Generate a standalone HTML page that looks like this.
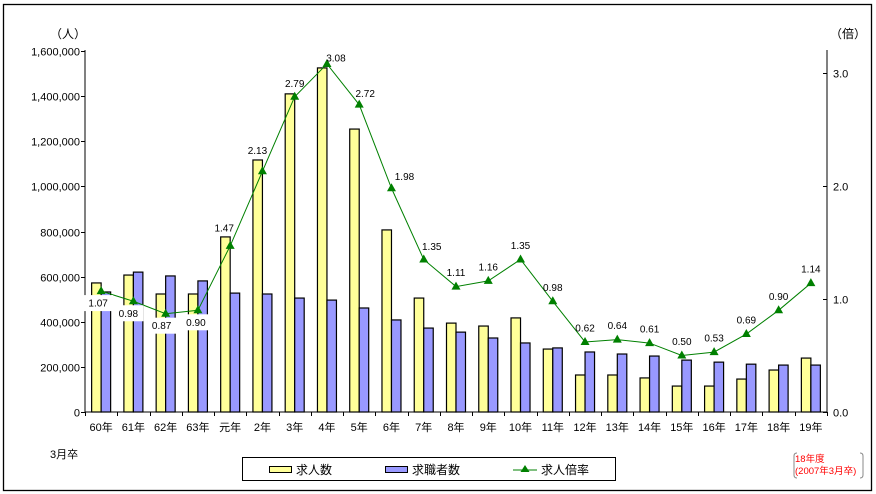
<!DOCTYPE html>
<html><head><meta charset="utf-8"><style>
body{margin:0;background:#fff}
svg{display:block;font-family:"Liberation Sans","Noto Sans CJK JP",sans-serif}
</style></head><body>
<svg id="chart" width="876" height="494">
<rect x="3.5" y="4.5" width="868" height="486" fill="#fff" stroke="#000" stroke-width="1.3"/>
<g id="plot"></g>
<text x="50" y="38" font-size="12">（人）</text>
<text x="830" y="38" font-size="12">（倍）</text>
<text x="50" y="458" font-size="11">3月卒</text>
<g>
<rect x="242.5" y="457.5" width="373" height="23" fill="#fff" stroke="#000"/>
<rect x="269.5" y="466.5" width="22" height="6" fill="#ffff99" stroke="#000"/>
<text x="296" y="474" font-size="12">求人数</text>
<rect x="385.5" y="466.5" width="22" height="6" fill="#9999ff" stroke="#000"/>
<text x="412" y="474" font-size="12">求職者数</text>
<line x1="513" y1="470" x2="537" y2="470" stroke="#008000"/>
<polygon points="525,465 529.5,472 520.5,472" fill="#008000"/>
<text x="541" y="474" font-size="12">求人倍率</text>
</g>
<g>
<path d="M797,453 Q794,453 794,456 L794,475 Q794,478 797,478" fill="none" stroke="#888"/>
<path d="M860,453 Q863,453 863,456 L863,475 Q863,478 860,478" fill="none" stroke="#888"/>
<text x="795" y="462" font-size="9.5" fill="#ff0000">18年度</text>
<text x="795" y="474" font-size="9.5" fill="#ff0000">(2007年3月卒)</text>
</g>
</svg>
<script>
const categories=["60年","61年","62年","63年","元年","2年","3年","4年","5年","6年","7年","8年","9年","10年","11年","12年","13年","14年","15年","16年","17年","18年","19年"];
const offers=[572000,607000,523000,523000,776000,1117000,1410000,1525000,1254000,807000,505000,394000,381000,417000,279000,164000,164000,151000,115000,115000,146000,186000,239000];
const seekers=[532000,620000,603000,581000,527000,523000,505000,496000,461000,408000,372000,354000,328000,306000,284000,266000,257000,248000,230000,221000,212000,208000,208000];
const ratios=[1.07,0.98,0.87,0.90,1.47,2.13,2.79,3.08,2.72,1.98,1.35,1.11,1.16,1.35,0.98,0.62,0.64,0.61,0.50,0.53,0.69,0.90,1.14];
const ratioLabels=["1.07","0.98","0.87","0.90","1.47","2.13","2.79","3.08","2.72","1.98","1.35","1.11","1.16","1.35","0.98","0.62","0.64","0.61","0.50","0.53","0.69","0.90","1.14"];
const leftTicks=[0,200000,400000,600000,800000,1000000,1200000,1400000,1600000];
const rightTicks=[0,1,2,3];

const NS="http://www.w3.org/2000/svg";
const X0=85,X1=827,Y0=412,TOP=50;
const band=(X1-X0)/categories.length;
const xc=i=>X0+band*(i+0.5);
const yL=v=>Y0-v/1600000*361;
const yR=v=>Y0-v*113;
const g=document.getElementById('plot');
function mk(t,a,p){const e=document.createElementNS(NS,t);for(const k in a)e.setAttribute(k,a[k]);(p||g).appendChild(e);return e;}
const fmt=v=>v.toLocaleString('en-US');

let e=mk('line',{x1:X0,y1:TOP,x2:X0,y2:Y0,stroke:'#000'});


e=mk('line',{x1:X1,y1:TOP,x2:X1,y2:Y0,stroke:'#000'});


e=mk('line',{x1:X0,y1:Y0,x2:X1,y2:Y0,stroke:'#000'});



leftTicks.forEach(v=>{
 const y=Math.round(yL(v))+0.5;
 mk('line',{x1:X0-4,y1:y,x2:X0,y2:y,stroke:'#000'});
 const t=mk('text',{x:80,y:y+4,'font-size':11,'text-anchor':'end'});
 t.textContent=fmt(v);
 
 
});
rightTicks.forEach(v=>{
 const y=Math.round(yR(v))+0.5;
 mk('line',{x1:X1-4,y1:y,x2:X1,y2:y,stroke:'#000'});
 const t=mk('text',{x:833,y:y+4,'font-size':11});
 t.textContent=v.toFixed(1);
 
 
});
for(let i=0;i<=categories.length;i++){const x=Math.round(X0+band*i)+0.5;mk('line',{x1:x,y1:Y0,x2:x,y2:Y0+4,stroke:'#000'});}

categories.forEach((c,i)=>{
 const t=mk('text',{x:xc(i),y:Y0+19,'font-size':11,'text-anchor':'middle'});
 t.textContent=c;
 
 
 const cx=xc(i),bw=9.5;
 const b1=mk('rect',{x:cx-bw,y:yL(offers[i]),width:bw,height:Y0-yL(offers[i]),fill:'#ffff99',stroke:'#000','stroke-width':1.2});
 
 
 const b2=mk('rect',{x:cx,y:yL(seekers[i]),width:bw,height:Y0-yL(seekers[i]),fill:'#9999ff',stroke:'#000','stroke-width':1.2});
 
 
});

const line=mk('polyline',{points:ratios.map((r,i)=>xc(i)+','+yR(r)).join(' '),fill:'none',stroke:'#008000','stroke-width':1});


ratios.forEach((r,i)=>{
 const x=xc(i),y=yR(r);
 const m=mk('polygon',{points:`${x},${y-5} ${x+4.5},${y+3} ${x-4.5},${y+3}`,fill:'#008000'});
 
 
});
const offs={0:[-3,12,1],1:[-5,12,1],2:[-4,12,1],3:[-2,12,1],4:[-6,-18],5:[-5,-21],6:[0,-13],7:[9,-6],8:[6,-11],9:[13,-12],10:[8,-13]};
ratios.forEach((r,i)=>{
 const o=offs[i]||[0,-14];
 const x=xc(i)+o[0],y=yR(r)+o[1];
 if(o[2]){mk('rect',{x:x-15,y:y-8,width:30,height:16,fill:'#fff'});}
 const t=mk('text',{x:x,y:y+3.5,'font-size':10,'text-anchor':'middle'});
 t.textContent=ratioLabels[i];
 
 
});
</script>
</body></html>
